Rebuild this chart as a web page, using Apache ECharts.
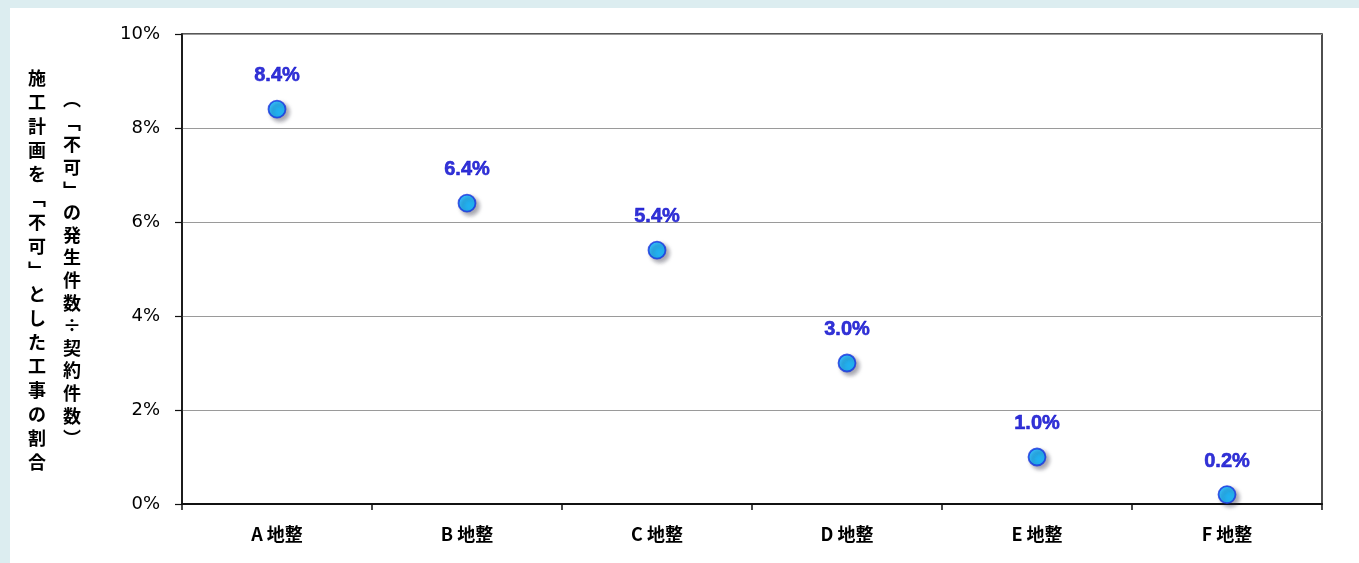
<!DOCTYPE html>
<html>
<head>
<meta charset="utf-8">
<script src="https://cdn.jsdelivr.net/npm/echarts@6/dist/echarts.min.js"></script>
<style>
  html, body { margin: 0; padding: 0; background: #dcedf0; }
  #wrap { position: absolute; left: 10px; top: 8px; right: 0; bottom: 0; background: #ffffff; }
  #chart { position: absolute; left: -10px; top: -8px; width: 1359px; height: 563px; }
</style>
</head>
<body>
<div id="wrap"><div id="chart"></div></div>
<script>
// Regions and share of construction plans judged "不可"
const categories = ['A地整', 'B地整', 'C地整', 'D地整', 'E地整', 'F地整'];
const rates = [8.4, 6.4, 5.4, 3.0, 1.0, 0.2];
const yTicks = [0, 2, 4, 6, 8, 10];

// Vertical axis titles (vertical presentation forms for brackets)
const titleMain = '施工計画を﹁不可﹂とした工事の割合';
const titleSub = '︵﹁不可﹂の発生件数÷契約件数︶';

const chart = echarts.init(document.getElementById('chart'), null, { renderer: 'canvas' });

const GRID = { left: 182, top: 34, right: 37, bottom: 59 };

function vertical(str) { return str.split('').join('\n'); }

chart.setOption({
  backgroundColor: 'transparent',
  animation: false,
  grid: Object.assign({ show: true, borderColor: '#222', borderWidth: 1.6, backgroundColor: 'transparent' }, GRID),
  xAxis: {
    type: 'category',
    data: categories,
    boundaryGap: true,
    axisLine: { lineStyle: { color: '#111', width: 2 } },
    axisTick: { show: true, length: 6, inside: false, lineStyle: { color: '#111', width: 1.5 } },
    axisLabel: {
      color: '#000', fontSize: 18, fontWeight: 'bold', margin: 21,
      fontFamily: '"Noto Sans CJK JP", "Liberation Sans", sans-serif',
      formatter: v => v.charAt(0) + ' ' + v.slice(1)
    },
    splitLine: { show: false }
  },
  yAxis: {
    type: 'value',
    min: yTicks[0],
    max: yTicks[yTicks.length - 1],
    interval: 2,
    axisLine: { show: true, lineStyle: { color: '#111', width: 1.6 } },
    axisTick: { show: true, length: 7, lineStyle: { color: '#111', width: 1.2 } },
    axisLabel: {
      color: '#000', fontSize: 18, margin: 22,
      fontFamily: '"DejaVu Sans", sans-serif',
      formatter: v => v + '%'
    },
    splitLine: { show: true, lineStyle: { color: '#9a9a9a', width: 1.2 } }
  },
  series: [{
    type: 'scatter',
    data: rates,
    symbol: 'circle',
    symbolSize: 17,
    itemStyle: {
      color: '#00b2ff',
      borderColor: '#1634e0',
      borderWidth: 1.8,
      shadowColor: 'rgba(40,40,60,0.5)',
      shadowBlur: 4,
      shadowOffsetX: 3,
      shadowOffsetY: 3
    },
    label: {
      show: true,
      position: 'top',
      distance: 14,
      color: '#0000cc',
      textBorderColor: '#0000cc',
      textBorderWidth: 0.6,
      fontSize: 20,
      fontWeight: 'bold',
      fontFamily: '"Liberation Sans", Arial, sans-serif',
      formatter: p => p.value.toFixed(1) + '%'
    }
  }],
  graphic: [
    {
      type: 'text', x: 37, y: 66,
      style: {
        text: vertical(titleMain),
        fill: '#000', font: 'bold 18px "Noto Sans CJK JP", sans-serif',
        lineHeight: 24, align: 'center', verticalAlign: 'top'
      }
    },
    {
      type: 'text', x: 72, y: 88,
      style: {
        text: vertical(titleSub),
        fill: '#000', font: 'bold 18px "Noto Sans CJK JP", sans-serif',
        lineHeight: 22.6, align: 'center', verticalAlign: 'top'
      }
    }
  ]
});
</script>
</body>
</html>
